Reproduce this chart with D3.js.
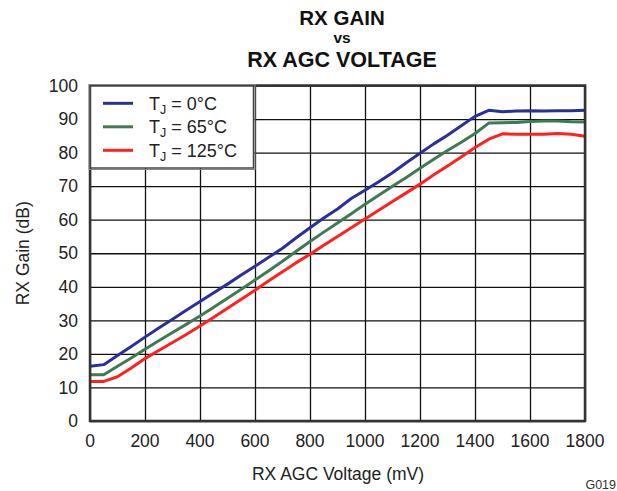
<!DOCTYPE html>
<html>
<head>
<meta charset="utf-8">
<script src="https://cdn.jsdelivr.net/npm/d3@7"></script>
<style>
  body { margin: 0; background: #fff; }
  svg { display: block; font-family: "Liberation Sans", Arial, sans-serif; }
</style>
</head>
<body>
<div id="chart"></div>
<script>
// RX gain vs RX AGC voltage, three junction temperatures
const voltages = d3.range(0, 1801, 50);

const gain0C = [16.3, 16.8, 19.5, 22.2, 25.0, 27.7, 30.3, 33.0, 35.6, 38.2, 40.8, 43.5, 46.1,
  48.8, 51.5, 54.6, 57.6, 60.5, 63.2, 66.3, 68.8, 71.3, 74.0, 77.0, 79.8, 82.6, 85.2, 88.0,
  90.8, 92.6, 92.2, 92.4, 92.5, 92.4, 92.5, 92.5, 92.6];
const gain65C = [13.8, 13.8, 16.3, 18.8, 21.4, 23.9, 26.4, 28.8, 31.3, 33.9, 36.6, 39.3, 42.0,
  44.8, 47.6, 50.6, 53.5, 56.3, 59.0, 61.8, 64.6, 67.3, 70.0, 72.6, 75.3, 78.0, 80.6, 83.1,
  85.7, 88.8, 88.9, 89.0, 89.3, 89.4, 89.4, 89.2, 89.1];
const gain125C = [11.8, 11.8, 13.2, 15.8, 18.6, 21.0, 23.4, 25.8, 28.3, 30.9, 33.6, 36.3, 39.0,
  41.8, 44.5, 47.2, 49.7, 52.4, 55.0, 57.6, 60.2, 62.8, 65.4, 68.0, 70.6, 73.4, 76.0, 78.7,
  81.5, 84.0, 85.6, 85.5, 85.5, 85.5, 85.7, 85.5, 84.9];

const seriesNames = ['0°C', '65°C', '125°C'];
const seriesColors = ['#2b2f98', '#3f7a52', '#ff2020'];
const xTicks = d3.range(0, 1801, 200);
const yTicks = d3.range(0, 101, 10);

const W = 617, H = 491;
const m = { left: 90, right: 32, top: 85.5, bottom: 70 };

const svg = d3.select('#chart').append('svg')
  .attr('width', W).attr('height', H);

const x = d3.scaleLinear().domain([0, 1800]).range([m.left, W - m.right]);
const y = d3.scaleLinear().domain([0, 100]).range([H - m.bottom, m.top]);

// title
const title = svg.append('g').attr('font-weight', 'bold').attr('text-anchor', 'middle')
  .attr('fill', '#111');
title.append('text').attr('x', 342).attr('y', 24.5).attr('font-size', 20.5).text('RX GAIN');
title.append('text').attr('x', 342).attr('y', 42.5).attr('font-size', 15.5).text('vs');
title.append('text').attr('x', 342).attr('y', 66.5).attr('font-size', 21.5).text('RX AGC VOLTAGE');

// grid
svg.append('g')
  .attr('transform', `translate(0,${y(0)})`)
  .call(d3.axisBottom(x).tickValues(xTicks).tickSize(-(y(0) - y(100))).tickFormat(''))
  .call(g => g.select('.domain').remove())
  .call(g => g.selectAll('line').attr('stroke', '#111').attr('stroke-width', 1.3));
svg.append('g')
  .attr('transform', `translate(${x(0)},0)`)
  .call(d3.axisLeft(y).tickValues(yTicks).tickSize(-(x(1800) - x(0))).tickFormat(''))
  .call(g => g.select('.domain').remove())
  .call(g => g.selectAll('line').attr('stroke', '#111').attr('stroke-width', 1.3));

// tick labels
svg.append('g').selectAll('text').data(xTicks).join('text')
  .attr('x', d => x(d)).attr('y', 446.5)
  .attr('text-anchor', 'middle').attr('font-size', 17.5).attr('fill', '#222')
  .text(d => d);
svg.append('g').selectAll('text').data(yTicks).join('text')
  .attr('x', 78).attr('y', d => y(d) + 6.2)
  .attr('text-anchor', 'end').attr('font-size', 17.5).attr('fill', '#222')
  .text(d => d);

// lines
const allSeries = [gain0C, gain65C, gain125C];
const line = d3.line().x((d, i) => x(voltages[i])).y(d => y(d));
svg.append('g').selectAll('path').data(allSeries).join('path')
  .attr('d', d => line(d))
  .attr('fill', 'none')
  .attr('stroke', (d, i) => seriesColors[i])
  .attr('stroke-width', 3)
  .attr('stroke-linejoin', 'round');

// plot frame
svg.append('rect')
  .attr('x', x(0)).attr('y', y(100))
  .attr('width', x(1800) - x(0)).attr('height', y(0) - y(100))
  .attr('fill', 'none').attr('stroke', '#333').attr('stroke-width', 2.5);

// legend
const lg = svg.append('g');
lg.append('rect').attr('x', 90.5).attr('y', 86).attr('width', 163).attr('height', 82)
  .attr('fill', '#fff').attr('stroke', '#444').attr('stroke-width', 1.5);
lg.append('rect').attr('x', 89).attr('y', 84.5).attr('width', 166).attr('height', 85)
  .attr('fill', 'none').attr('stroke', '#888').attr('stroke-width', 1);
const rows = lg.selectAll('g.row').data(seriesNames).join('g')
  .attr('transform', (d, i) => `translate(0,${103.3 + i * 23.5})`);
rows.append('line').attr('x1', 103).attr('x2', 133)
  .attr('stroke', (d, i) => seriesColors[i]).attr('stroke-width', 3);
const lt = rows.append('text').attr('x', 149).attr('y', 6.5)
  .attr('font-size', 18).attr('fill', '#222');
lt.append('tspan').text('T');
lt.append('tspan').attr('font-size', 12.5).attr('dy', 4).text('J');
lt.append('tspan').attr('dy', -4).text(d => ` = ${d}`);

// axis titles
svg.append('text').attr('x', 338).attr('y', 480)
  .attr('text-anchor', 'middle').attr('font-size', 17.5).attr('fill', '#222')
  .text('RX AGC Voltage (mV)');
svg.append('text')
  .attr('transform', `translate(29,${(y(0) + y(100)) / 2}) rotate(-90)`)
  .attr('text-anchor', 'middle').attr('font-size', 17.5).attr('fill', '#222')
  .text('RX Gain (dB)');

svg.append('text').attr('x', 616).attr('y', 489)
  .attr('text-anchor', 'end').attr('font-size', 12.5).attr('fill', '#333')
  .text('G019');
</script>
</body>
</html>
